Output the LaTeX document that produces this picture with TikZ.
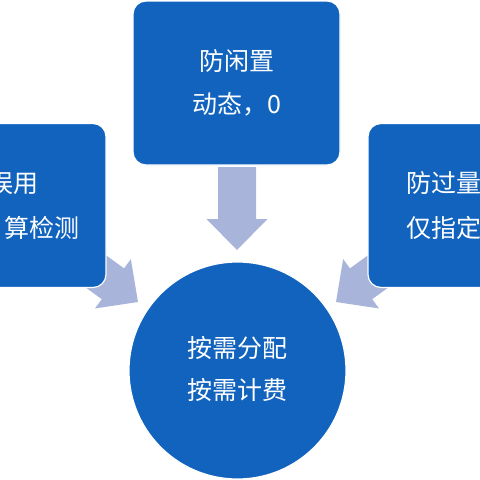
\documentclass[tikz,border=0pt]{standalone}
\usepackage{fontspec}
\newfontfamily\cjk{Noto Sans CJK SC}
\definecolor{boxblue}{HTML}{1263BE}
\definecolor{arrowblue}{HTML}{A9B4DA}
\begin{document}
\begin{tikzpicture}[x=1pt,y=-1pt,
  box/.style={rectangle, rounded corners=13pt, fill=boxblue, draw=white, line width=1.2pt,
    minimum width=207pt, minimum height=164pt, inner sep=0pt},
  hub/.style={circle, fill=boxblue, draw=white, line width=1.2pt, minimum size=217pt, inner sep=0pt},
  label/.style={text=white, font=\cjk\fontsize{25pt}{43pt}\selectfont, inner sep=0pt, align=center},
  blockarrow/.style={fill=arrowblue}]
\clip (0,0) rectangle (480,480);
\fill[white] (0,0) rectangle (480,480);
% block arrows (drawn first, boxes cover their tails)
\begin{scope}[shift={(237,250)}]
  \fill[blockarrow] (0,0) -- (-30.5,-31) -- (-19,-31) -- (-19,-83) -- (19,-83) -- (19,-31) -- (30.5,-31) -- cycle;
\end{scope}
\begin{scope}[shift={(138,302)}, rotate=54]
  \fill[blockarrow] (0,0) -- (-30.5,-31) -- (-19,-31) -- (-19,-90) -- (19,-90) -- (19,-31) -- (30.5,-31) -- cycle;
\end{scope}
\begin{scope}[shift={(336,302)}, rotate=-54]
  \fill[blockarrow] (0,0) -- (-30.5,-31) -- (-19,-31) -- (-19,-90) -- (19,-90) -- (19,-31) -- (30.5,-31) -- cycle;
\end{scope}
% boxes
\node[box] (top) at (236.5,83) {};
\node[label] (toptext) at (236.5,83) {防闲置\\动态，0};
\node[box] (left) at (2.5,205.5) {};
\node[label, anchor=east] (left1) at (39,183) {误用};
\node[label, anchor=east] (left2) at (80,228) {算检测};
\node[box] (right) at (471.5,205.5) {};
\node[label, anchor=west] (right1) at (406,183) {防过量};
\node[label, anchor=west] (right2) at (406,228) {仅指定};
\node[hub] (hub) at (237.5,370.5) {};
\node[label, font=\cjk\fontsize{25pt}{42pt}\selectfont] (hubtext) at (237.5,369) {按需分配\\按需计费};
\end{tikzpicture}
\end{document}
